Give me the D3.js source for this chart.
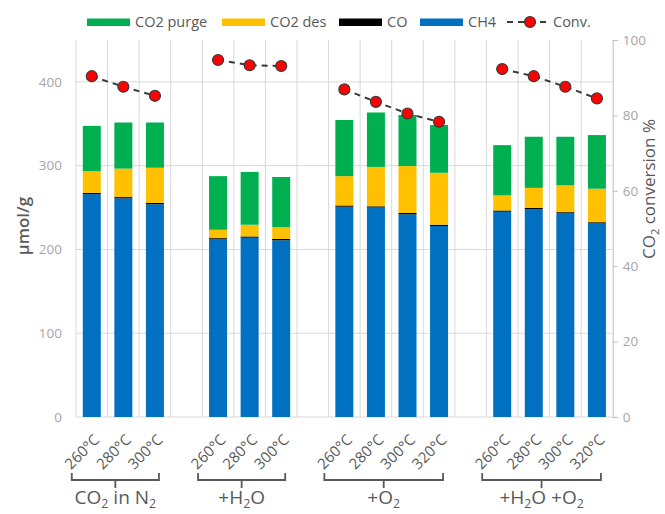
<!DOCTYPE html>
<html>
  <head>
    <script src="https://cdnjs.cloudflare.com/ajax/libs/d3/7.8.5/d3.min.js"></script>
    <style>
      body { margin: 0; background: #fff; }
      text { font-family: "Open Sans", sans-serif; }
    </style>
  </head>
  <body>
    <div id="chart"></div>
    <script>
      // data
      const groups = ["CO₂ in N₂", "+H₂O", "+O₂", "+H₂O +O₂"];
      const temps = ["260°C", "280°C", "300°C", "260°C", "280°C", "300°C",
                     "260°C", "280°C", "300°C", "320°C", "260°C", "280°C", "300°C", "320°C"];
      const groupOf = [0, 0, 0, 1, 1, 1, 2, 2, 2, 2, 3, 3, 3, 3];
      const ch4 = [266, 261, 254, 212, 214, 211, 251, 250, 242, 228, 245, 248, 243, 231];
      const co = [1.5, 1.5, 1.5, 1.5, 1.5, 1.5, 1.5, 1.5, 1.5, 1.5, 1.5, 1.5, 1.5, 1.5];
      const co2des = [26, 34, 42, 10, 14, 14, 35, 47, 56, 62, 18, 24, 32, 40];
      const co2purge = [54, 55, 54, 64, 63, 60, 67, 65, 61, 57, 60, 61, 58, 64];
      const conv = [90.4, 87.6, 85.2, 94.7, 93.3, 93.1, 86.9, 83.6, 80.5, 78.3, 92.3, 90.4, 87.6, 84.5];
      const leftTicks = [0, 100, 200, 300, 400];
      const rightTicks = [0, 20, 40, 60, 80, 100];

      const series = [
        { key: "ch4", name: "CH4", color: "#0070C0", values: ch4 },
        { key: "co", name: "CO", color: "#000000", values: co },
        { key: "des", name: "CO2 des", color: "#FFC000", values: co2des },
        { key: "purge", name: "CO2 purge", color: "#00B050", values: co2purge },
      ];

      const W = 665, H = 514;
      const pLeft = 76, pRight = 612.7, pTop = 40, pBottom = 417;
      const grid = "#d9d9d9", textDark = "#595959", textLight = "#a6a6a6";

      const svg = d3.select("#chart").append("svg").attr("width", W).attr("height", H);

      // slots: bars plus one empty slot between groups
      const slots = [];
      temps.forEach((t, i) => {
        if (i > 0 && groupOf[i] !== groupOf[i - 1]) slots.push("gap" + i);
        slots.push("bar" + i);
      });

      const x = d3.scaleBand().domain(slots).range([pLeft, pRight]).paddingInner(0.43).paddingOuter(0.215);
      const step = x.step();
      const cx = (i) => x("bar" + i) + x.bandwidth() / 2;
      const y = d3.scaleLinear().domain([0, 450]).range([pBottom, pTop]);
      const y2 = d3.scaleLinear().domain([0, 100]).range([pBottom, pTop]);

      // gridlines
      const gg = svg.append("g");
      leftTicks.forEach((t) => {
        gg.append("line").attr("x1", pLeft).attr("x2", pRight).attr("y1", y(t)).attr("y2", y(t))
          .attr("stroke", grid).attr("stroke-width", 1);
      });
      d3.range(slots.length).forEach((k) => {
        const xx = pLeft + k * step;
        gg.append("line").attr("x1", xx).attr("x2", xx).attr("y1", pTop).attr("y2", pBottom)
          .attr("stroke", grid).attr("stroke-width", 1);
      });

      // stacked bars
      const rows = temps.map((t, i) => {
        const r = { i };
        series.forEach((s) => (r[s.key] = s.values[i]));
        return r;
      });
      const stack = d3.stack().keys(series.map((s) => s.key))(rows);
      svg.append("g").selectAll("g").data(stack).join("g")
        .attr("fill", (d, k) => series[k].color)
        .selectAll("rect").data((d) => d).join("rect")
        .attr("x", (d) => x("bar" + d.data.i))
        .attr("width", x.bandwidth())
        .attr("y", (d) => y(d[1]))
        .attr("height", (d) => y(d[0]) - y(d[1]));

      // left axis labels
      const la = svg.append("g").attr("transform", `translate(${pLeft - 14},0)`)
        .call(d3.axisLeft(y).tickValues(leftTicks).tickSize(0).tickPadding(0));
      la.select(".domain").remove();
      la.selectAll("text").attr("fill", textLight).style("font-size", "13.5px")
        .style("font-family", "'Open Sans', sans-serif");

      // right axis
      const ra = svg.append("g").attr("transform", `translate(${pRight},0)`)
        .call(d3.axisRight(y2).tickValues(rightTicks).tickSize(5).tickPadding(5));
      ra.select(".domain").attr("stroke", "#bfbfbf");
      ra.selectAll(".tick line").attr("stroke", "#bfbfbf");
      ra.selectAll("text").attr("fill", textLight).style("font-size", "13.5px")
        .style("font-family", "'Open Sans', sans-serif");

      // conversion line, broken between groups
      const line = d3.line().x((d) => cx(d)).y((d) => y2(conv[d]));
      groups.forEach((g, gi) => {
        const idx = d3.range(temps.length).filter((i) => groupOf[i] === gi);
        svg.append("path").attr("d", line(idx)).attr("fill", "none")
          .attr("stroke", "#3a3a3a").attr("stroke-width", 2).attr("stroke-dasharray", "6,5");
      });
      svg.append("g").selectAll("circle").data(d3.range(temps.length)).join("circle")
        .attr("cx", (i) => cx(i)).attr("cy", (i) => y2(conv[i])).attr("r", 5.5)
        .attr("fill", "#FF0000").attr("stroke", "#3a3a3a").attr("stroke-width", 1.2);

      // temperature labels
      svg.append("g").selectAll("text").data(temps).join("text")
        .attr("transform", (t, i) => `translate(${cx(i) + 5},${437}) rotate(-45)`)
        .attr("text-anchor", "end").attr("dy", "0.35em")
        .attr("fill", textDark).style("font-size", "15px").text((t) => t);

      // writes text with subscript 2s
      function richText(sel, str, size) {
        const shift = size * 0.22;
        let down = false;
        str.split(/(₂)/).filter((s) => s).forEach((part) => {
          if (part === "₂") {
            sel.append("tspan").text("2").attr("dy", shift).style("font-size", size * 0.65 + "px");
            down = true;
          } else {
            const ts = sel.append("tspan").text(part);
            if (down) ts.attr("dy", -shift);
            down = false;
          }
        });
      }

      // group brackets and names
      groups.forEach((g, gi) => {
        const idx = d3.range(temps.length).filter((i) => groupOf[i] === gi);
        const x0 = cx(idx[0]) - 20, x1 = cx(idx[idx.length - 1]) + 4, xm = (x0 + x1) / 2;
        svg.append("path").attr("d", `M${x0},473V480H${x1}V473M${xm},480V488`)
          .attr("fill", "none").attr("stroke", textDark).attr("stroke-width", 1.8);
        const t = svg.append("text").attr("x", xm).attr("y", 504).attr("text-anchor", "middle")
          .attr("fill", textDark).style("font-size", "19px");
        richText(t, g, 19);
      });

      // axis titles
      svg.append("text").attr("transform", "translate(29,226) rotate(-90)").attr("text-anchor", "middle")
        .attr("fill", textDark).style("font-size", "17px").style("font-weight", "600").text("µmol/g");
      const rt = svg.append("text").attr("transform", "translate(655,189) rotate(-90)")
        .attr("text-anchor", "middle").attr("fill", textDark).style("font-size", "17px");
      richText(rt, "CO₂ conversion %", 17);

      // legend
      const lg = svg.append("g");
      const legendItems = [
        { name: "CO2 purge", color: "#00B050", x: 87 },
        { name: "CO2 des", color: "#FFC000", x: 222 },
        { name: "CO", color: "#000000", x: 339 },
        { name: "CH4", color: "#0070C0", x: 420 },
      ];
      legendItems.forEach((d) => {
        lg.append("rect").attr("x", d.x).attr("y", 18.5).attr("width", 43).attr("height", 7.5).attr("fill", d.color);
        lg.append("text").attr("x", d.x + 48).attr("y", 27).attr("fill", textDark)
          .style("font-size", "14.5px").text(d.name);
      });
      lg.append("line").attr("x1", 507).attr("x2", 547).attr("y1", 22).attr("y2", 22)
        .attr("stroke", "#3a3a3a").attr("stroke-width", 2).attr("stroke-dasharray", "6,5");
      lg.append("circle").attr("cx", 530).attr("cy", 22).attr("r", 5.5)
        .attr("fill", "#FF0000").attr("stroke", "#3a3a3a").attr("stroke-width", 1.2);
      lg.append("text").attr("x", 553).attr("y", 27).attr("fill", textDark)
        .style("font-size", "14.5px").text("Conv.");
    </script>
  </body>
</html>
